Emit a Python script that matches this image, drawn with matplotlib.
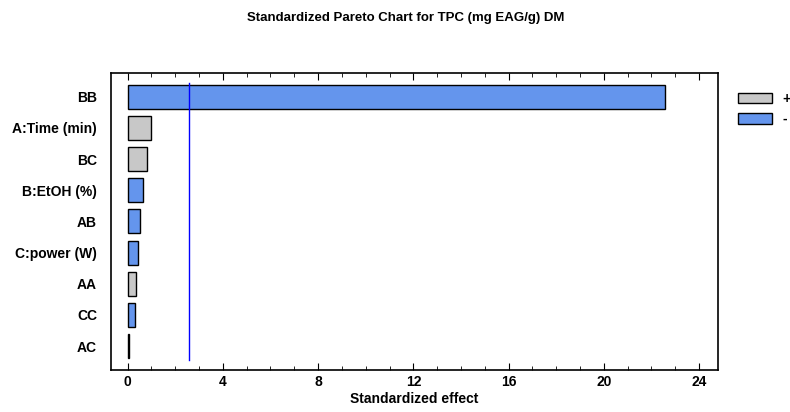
import matplotlib

matplotlib.use("Agg")
import matplotlib.pyplot as plt
from matplotlib.patches import Patch

plt.rcParams["font.family"] = ["Liberation Sans", "DejaVu Sans"]
plt.rcParams["font.weight"] = "bold"

# effects, top to bottom
terms = ["BB", "A:Time (min)", "BC", "B:EtOH (%)", "AB", "C:power (W)", "AA", "CC", "AC"]
effects = [22.58, 0.98, 0.80, 0.66, 0.53, 0.42, 0.35, 0.31, 0.07]
signs = ["-", "+", "+", "-", "-", "-", "+", "-", "-"]
t_crit = 2.57

POS_COLOR = "#c8c8c8"
NEG_COLOR = "#6495ed"

fig = plt.figure(figsize=(7.9, 4.12), dpi=100)
ax = fig.add_axes([0.1405, 0.1019, 0.7684, 0.7209])

ypos = list(range(len(terms)))
colors = [POS_COLOR if s == "+" else NEG_COLOR for s in signs]
ax.barh(ypos, effects, height=0.77, color=colors, edgecolor="black", linewidth=1.0)
ax.plot([t_crit, t_crit], [-0.45, 8.45], color="blue", lw=1.0)

ax.set_ylim(8.77, -0.76)
ax.set_xlim(-0.7, 24.8)
ax.set_yticks(ypos)
ax.set_yticklabels(terms, fontsize=10, fontweight="bold")
ax.set_xticks(range(0, 25, 4))
ax.set_xticks(range(0, 25), minor=True)
ax.tick_params(axis="x", which="both", direction="in", top=True, labelsize=10)
ax.tick_params(axis="x", which="major", length=5)
ax.tick_params(axis="x", which="minor", length=3)
ax.tick_params(axis="y", length=0, pad=10)
for lab in ax.get_xticklabels():
    lab.set_fontweight("bold")
for sp in ax.spines.values():
    sp.set_linewidth(1.2)

ax.set_xlabel("Standardized effect", fontsize=10, fontweight="bold", labelpad=2)
fig.suptitle("Standardized Pareto Chart for TPC (mg EAG/g) DM", fontsize=9.5,
             fontweight="bold", x=0.514, y=0.97)

handles = [Patch(facecolor=POS_COLOR, edgecolor="black", label="+"),
           Patch(facecolor=NEG_COLOR, edgecolor="black", label="-")]
fig.legend(handles=handles, loc="upper left", bbox_to_anchor=(0.934, 0.777), frameon=False,
           borderpad=0, borderaxespad=0, handlelength=2.45, handleheight=0.79,
           handletextpad=0.75, labelspacing=0.45, prop={"weight": "bold", "size": 10})

fig.savefig("out.png", dpi=100)
